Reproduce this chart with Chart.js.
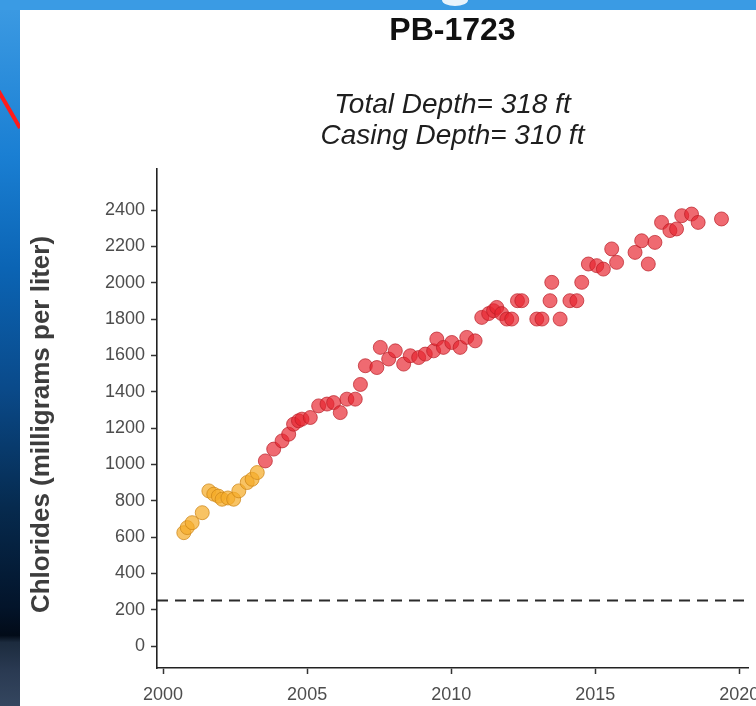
<!DOCTYPE html>
<html>
<head>
<meta charset="utf-8">
<script src="https://cdn.jsdelivr.net/npm/chart.js@4.4.1/dist/chart.umd.min.js"></script>
<style>
html,body{margin:0;padding:0;width:756px;height:706px;overflow:hidden;}
body{position:relative;background:linear-gradient(to bottom,#3d9be3 0%,#1a7fd3 22%,#0b64b4 38%,#0a4a8a 55%,#062a4e 72%,#03142a 86%,#020b18 90%,#1c2b3e 91%,#2a3a52 95%,#34465f 100%);}
#topstrip{position:absolute;left:0;top:0;width:756px;height:10px;background:#3a9be4;}
#blob{position:absolute;left:442px;top:-6px;width:26px;height:12px;border-radius:50%;background:#e9f3fb;}
#panel{position:absolute;left:20px;top:10px;width:736px;height:696px;background:#ffffff;}
#deco{position:absolute;left:0;top:0;}
#chart{position:absolute;left:20px;top:10px;}
</style>
</head>
<body>
<div id="topstrip"></div>
<div id="blob"></div>
<svg id="deco" width="24" height="160"><line x1="-2" y1="90" x2="20" y2="128" stroke="#ff1a1a" stroke-width="4"/></svg>
<div id="panel"></div>
<canvas id="chart" width="760" height="696"></canvas>
<script>
// ---- data ----
const years = [
  2000.72, 2000.84, 2001.01, 2001.36, 2001.59, 2001.76, 2001.92, 2002.05, 2002.25, 2002.45, 2002.63, 2002.92, 2003.09, 2003.27,
  2003.55, 2003.84, 2004.13, 2004.36, 2004.53, 2004.70, 2004.82, 2005.11, 2005.40, 2005.69, 2005.92, 2006.15, 2006.38, 2006.67, 2006.85,
  2007.02, 2007.42, 2007.54, 2007.83, 2008.06, 2008.35, 2008.58, 2008.87, 2009.10, 2009.39, 2009.50, 2009.73, 2010.02, 2010.31, 2010.54, 2010.83,
  2011.06, 2011.30, 2011.47, 2011.58, 2011.75, 2011.93, 2012.10, 2012.30, 2012.45, 2012.97, 2013.15, 2013.43, 2013.49, 2013.78, 2014.12, 2014.36, 2014.53,
  2014.76, 2015.05, 2015.28, 2015.57, 2015.74, 2016.38, 2016.61, 2016.84, 2017.07, 2017.30, 2017.59, 2017.82, 2018.00, 2018.34, 2018.57, 2019.38
];
const chlorides = [
  624, 652, 679, 734, 854, 836, 825, 808, 815, 808, 854, 900, 918, 955,
  1019, 1084, 1129, 1166, 1221, 1240, 1249, 1258, 1322, 1332, 1340, 1285, 1359, 1359, 1440,
  1543, 1533, 1644, 1580, 1625, 1552, 1598, 1588, 1607, 1625, 1690, 1644, 1671, 1644, 1699, 1680,
  1809, 1830, 1846, 1864, 1830, 1800, 1800, 1901, 1901, 1800, 1800, 1901, 2002, 1800, 1901, 1901, 2002,
  2103, 2094, 2075, 2186, 2112, 2167, 2231, 2103, 2222, 2332, 2287, 2296, 2369, 2378, 2332, 2351
];
const xTickValues = [2000, 2005, 2010, 2015, 2020];
const yTickValues = [0, 200, 400, 600, 800, 1000, 1200, 1400, 1600, 1800, 2000, 2200, 2400];
const thresholdValue = 250;
const colorBreakValue = 1000;
const titleText = 'PB-1723';
const subtitleLines = ['Total Depth= 318 ft', 'Casing Depth= 310 ft'];
const yAxisTitle = 'Chlorides (milligrams per liter)';

// ---- axis ranges ----
const xMin = 1999.79, xMax = 2020.3;
const yMin = -121, yMax = 2626;

const FAMILY = '"Liberation Sans", Arial, Helvetica, sans-serif';
const points = years.map((x, i) => ({x: x, y: chlorides[i]}));

const orangeFill = 'rgba(245,172,40,0.72)';
const orangeLine = 'rgba(205,135,25,0.75)';
const redFill = 'rgba(232,35,45,0.68)';
const redLine = 'rgba(185,30,38,0.7)';

// y-axis title drawn a little below the panel centre, as in the reference
const yTitlePlugin = {
  id: 'yTitle',
  afterDraw(chart) {
    const ctx = chart.ctx;
    const area = chart.chartArea;
    ctx.save();
    ctx.translate(22, (area.top + area.bottom) / 2 + 6);
    ctx.rotate(-Math.PI / 2);
    ctx.font = 'bold 26px ' + FAMILY;
    ctx.fillStyle = '#3d3d3d';
    ctx.textAlign = 'center';
    ctx.textBaseline = 'middle';
    ctx.fillText(yAxisTitle, 0, 0);
    ctx.restore();
  }
};

new Chart(document.getElementById('chart'), {
  type: 'scatter',
  data: {
    datasets: [
      {
        data: [{x: xMin, y: thresholdValue}, {x: xMax, y: thresholdValue}],
        showLine: true,
        borderColor: '#2b2b2b',
        borderWidth: 2,
        borderDash: [11, 7],
        pointRadius: 0,
        pointHoverRadius: 0
      },
      {
        data: points,
        pointRadius: 7,
        pointHoverRadius: 7,
        borderWidth: 1,
        backgroundColor: ctx => (ctx.raw && ctx.raw.y < colorBreakValue) ? orangeFill : redFill,
        borderColor: ctx => (ctx.raw && ctx.raw.y < colorBreakValue) ? orangeLine : redLine
      }
    ]
  },
  plugins: [yTitlePlugin],
  options: {
    responsive: false,
    animation: false,
    events: [],
    layout: {padding: {left: 0, right: 32, top: 0, bottom: 0}},
    plugins: {
      legend: {display: false},
      tooltip: {enabled: false},
      title: {
        display: true,
        text: titleText,
        fullSize: false,
        color: '#111111',
        font: {family: FAMILY, size: 32, weight: 'bold', lineHeight: 1.2},
        padding: {top: 2, bottom: 0}
      },
      subtitle: {
        display: true,
        text: subtitleLines,
        fullSize: false,
        color: '#1e1e1e',
        font: {family: FAMILY, size: 28, style: 'italic', weight: 'normal', lineHeight: '31px'},
        padding: {top: 39, bottom: 17.6}
      }
    },
    scales: {
      x: {
        type: 'linear',
        min: xMin,
        max: xMax,
        afterBuildTicks: s => { s.ticks = xTickValues.map(v => ({value: v})); },
        afterFit: s => { s.height = 38; },
        ticks: {
          color: '#4d4d4d',
          font: {family: FAMILY, size: 18},
          padding: 10,
          maxRotation: 0,
          callback: v => String(v)
        },
        grid: {display: true, drawOnChartArea: false, drawTicks: true, tickLength: 6, tickColor: '#333333', tickWidth: 1.5},
        border: {display: true, color: '#222222', width: 1.6}
      },
      y: {
        type: 'linear',
        min: yMin,
        max: yMax,
        afterBuildTicks: s => { s.ticks = yTickValues.map(v => ({value: v})); },
        afterFit: s => { s.width = 137; },
        ticks: {
          color: '#4d4d4d',
          font: {family: FAMILY, size: 18},
          padding: 6,
          callback: v => String(v)
        },
        grid: {display: true, drawOnChartArea: false, drawTicks: true, tickLength: 6, tickColor: '#333333', tickWidth: 1.5},
        border: {display: true, color: '#222222', width: 1.6},
        title: {display: false}
      }
    }
  }
});
</script>
</body>
</html>
